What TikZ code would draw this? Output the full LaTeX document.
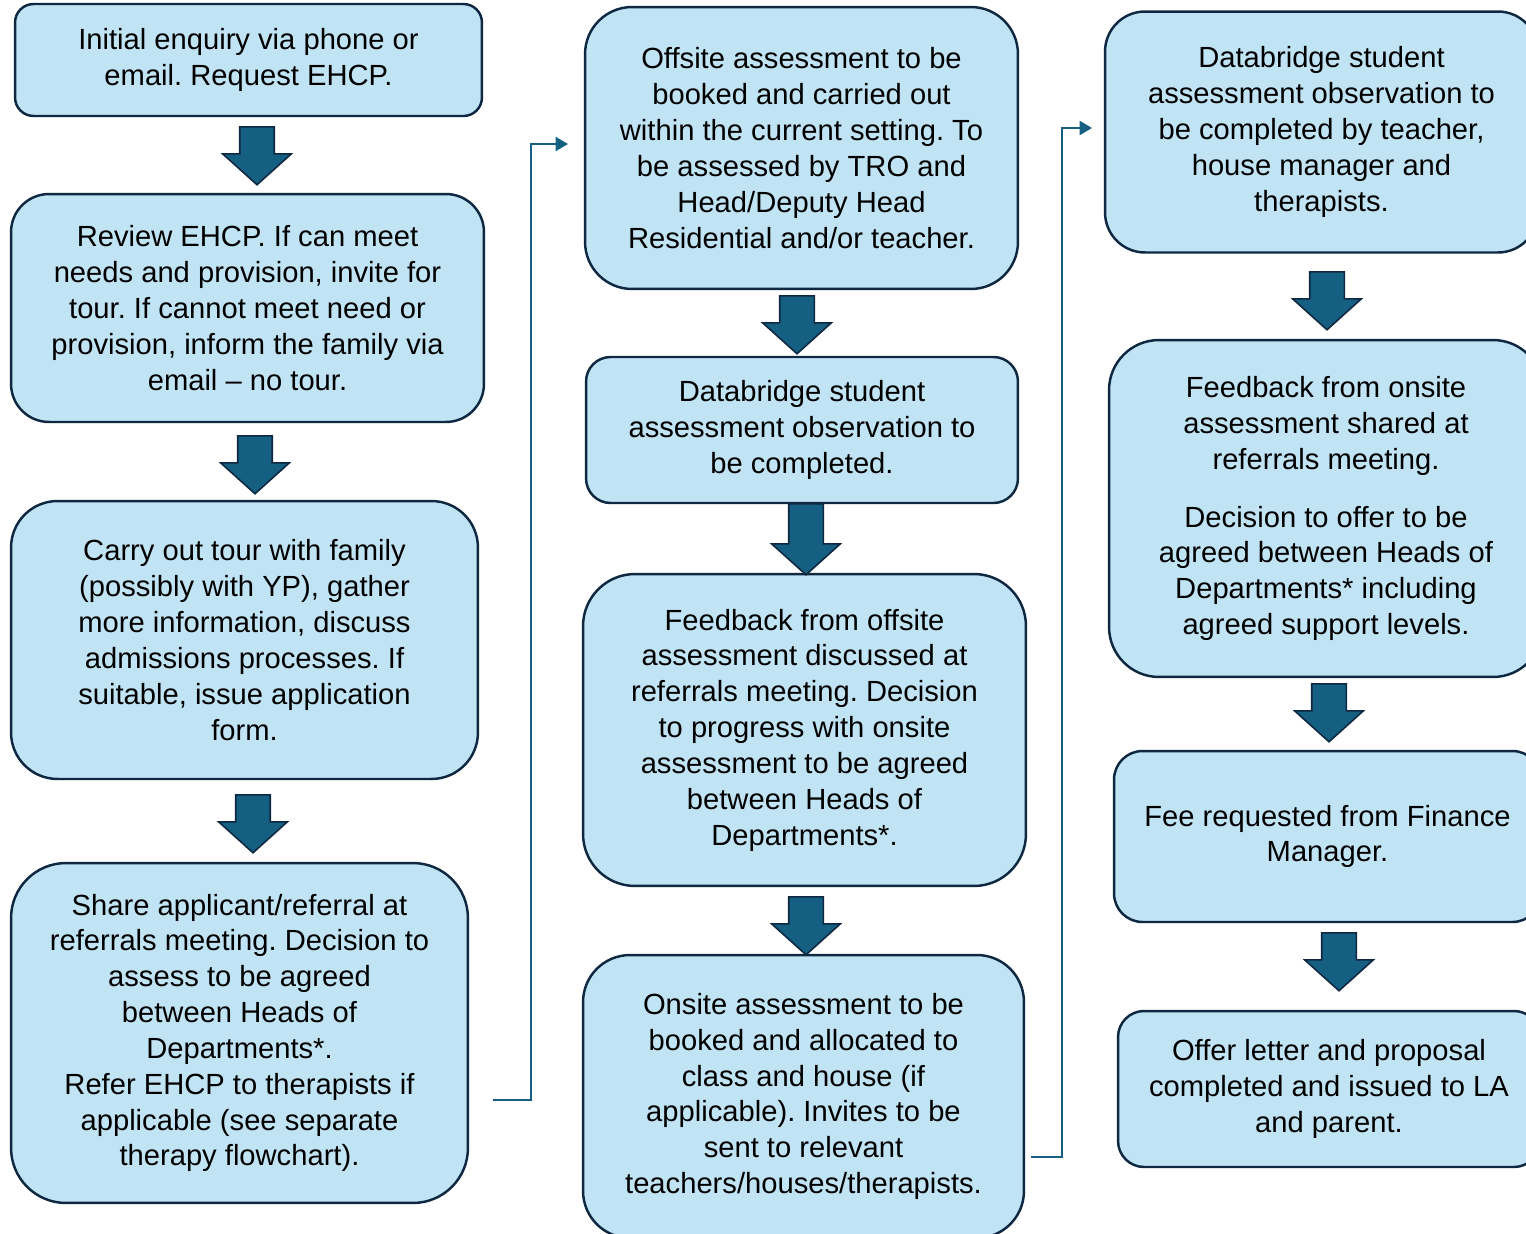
\documentclass[tikz,border=0pt]{standalone}
\usepackage{fontspec}
\setmainfont{Liberation Sans}
\frenchspacing
\usetikzlibrary{arrows.meta,positioning,shapes.arrows}
\definecolor{boxfill}{HTML}{C1E4F5}
\definecolor{boxline}{HTML}{0E2841}
\definecolor{accent}{HTML}{156082}
\tikzset{%
	stage/.style     = {draw=boxline, fill=boxfill, line width=1.4pt, rectangle, align=center, inner sep=0pt, font=\fontsize{16.6}{20.4}\selectfont}, % Step box
	downarrow/.style = {draw=boxline, fill=accent, line width=0.9pt, single arrow, shape border rotate=270, anchor=tail, minimum width=1.34cm, single arrow head extend=0.34cm, single arrow tip angle=96, inner sep=0.33cm}, % Block arrow
	link/.style      = {draw=accent, line width=0.9pt, -{Triangle[length=7pt,width=8pt]}}, % Column link
}

\begin{document}
\begin{tikzpicture}[x=0.02cm,y=-0.02cm]
	\useasboundingbox (0,0) rectangle (1526,1234);
	% first column
	\node [stage, minimum width=9.34cm, minimum height=2.24cm, rounded corners=0.37cm] (b1) at (248.5,60) {Initial enquiry via phone or\\ email. Request EHCP.};
	\node [stage, minimum width=9.46cm, minimum height=4.56cm, rounded corners=0.76cm] (b2) at (247.5,308) {Review EHCP. If can meet\\ needs and provision, invite for\\ tour. If cannot meet need or\\ provision, inform the family via\\ email – no tour.};
	\node [stage, minimum width=9.34cm, minimum height=5.56cm, rounded corners=0.93cm] (b3) at (244.5,640) {Carry out tour with family\\ (possibly with YP), gather\\ more information, discuss\\ admissions processes. If\\ suitable, issue application\\ form.};
	\node [stage, minimum width=9.14cm, minimum height=6.8cm, rounded corners=1.1cm] (b4) at (239.5,1033) {Share applicant/referral at\\ referrals meeting. Decision to\\ assess to be agreed\\ between Heads of\\ Departments*.\\ Refer EHCP to therapists if\\ applicable (see separate\\ therapy flowchart).};
	\node [downarrow, minimum height=1.16cm] (a1) at (257,126) {};
	\node [downarrow, minimum height=1.16cm] (a2) at (255,435) {};
	\node [downarrow, minimum height=1.16cm] (a3) at (253,794) {};
	
	% second column
	\node [stage, minimum width=8.66cm, minimum height=5.64cm, rounded corners=0.94cm] (c1) at (801.5,148) {Offsite assessment to be\\ booked and carried out\\ within the current setting. To\\ be assessed by TRO and\\ Head/Deputy Head\\ Residential and/or teacher.};
	\node [stage, minimum width=8.64cm, minimum height=2.92cm, rounded corners=0.49cm] (c2) at (802,430) {Databridge student\\ assessment observation to\\ be completed.};
	\node [stage, minimum width=8.86cm, minimum height=6.24cm, rounded corners=1.04cm] (c3) at (804.5,730) {Feedback from offsite\\ assessment discussed at\\ referrals meeting. Decision\\ to progress with onsite\\ assessment to be agreed\\ between Heads of\\ Departments*.};
	\node [stage, minimum width=8.82cm, minimum height=5.66cm, rounded corners=0.94cm] (c4) at (803.5,1096.5) {Onsite assessment to be\\ booked and allocated to\\ class and house (if\\ applicable). Invites to be\\ sent to relevant\\ teachers/houses/therapists.};
	\node [downarrow, minimum height=1.16cm] (a4) at (797,295) {};
	\node [downarrow, minimum height=1.42cm] (a5) at (806,503) {};
	\node [downarrow, minimum height=1.16cm] (a6) at (806,896) {};
	
	% third column
	\node [stage, minimum width=8.66cm, minimum height=4.82cm, rounded corners=0.8cm] (d1) at (1321.5,132) {Databridge student\\ assessment observation to\\ be completed by teacher,\\ house manager and\\ therapists.};
	\node [stage, minimum width=8.68cm, minimum height=6.74cm, rounded corners=1cm] (d2) at (1326,508.5) {Feedback from onsite\\ assessment shared at\\ referrals meeting.\\[12.5pt] Decision to offer to be\\ agreed between Heads of\\ Departments* including\\ agreed support levels.};
	\node [stage, minimum width=8.54cm, minimum height=3.42cm, rounded corners=0.57cm] (d3) at (1327.5,836.5) {Fee requested from Finance\\ Manager.};
	\node [stage, minimum width=8.44cm, minimum height=3.12cm, rounded corners=0.52cm] (d4) at (1329,1089) {Offer letter and proposal\\ completed and issued to LA\\ and parent.};
	\node [downarrow, minimum height=1.16cm] (a7) at (1327,271) {};
	\node [downarrow, minimum height=1.16cm] (a8) at (1329,683) {};
	\node [downarrow, minimum height=1.16cm] (a9) at (1339,932) {};
	
	% links between columns
	\coordinate (l1a) at (493,1100);
	\coordinate (l1b) at (568,144);
	\coordinate (l2a) at (1031,1157);
	\coordinate (l2b) at (1092,128);
	\draw[link] (l1a) -- ++(38,0) |- (l1b);
	\draw[link] (l2a) -- ++(31,0) |- (l2b);
\end{tikzpicture}
\end{document}
